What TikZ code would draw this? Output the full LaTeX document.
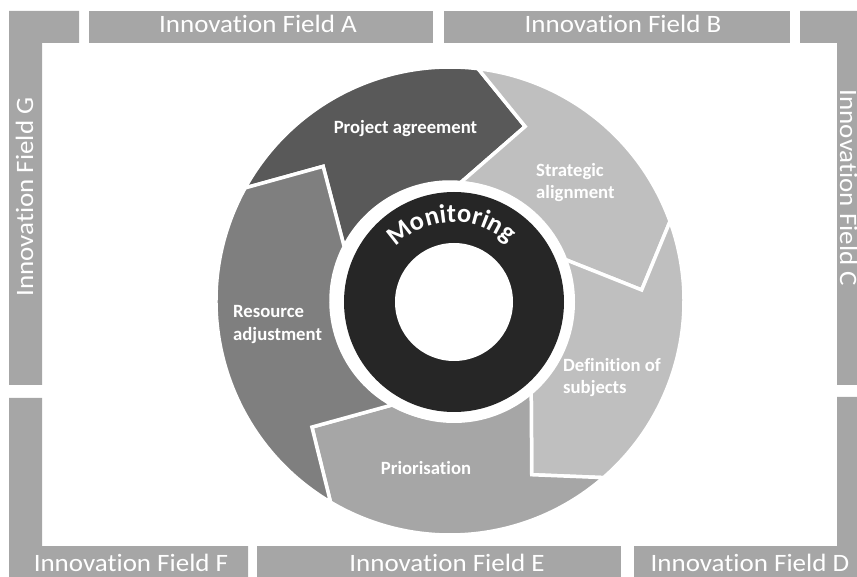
\documentclass[tikz,border=0pt]{standalone}
\usepackage{fontspec}
\setmainfont{Carlito}[Ligatures=NoCommon]
\newfontfamily\barfont[FakeStretch=1.08,Ligatures=NoCommon]{Carlito}
\usetikzlibrary{decorations.text}
\definecolor{barcol}{HTML}{A6A6A6}
\definecolor{colproj}{HTML}{595959}
\definecolor{colstrat}{HTML}{BFBFBF}
\definecolor{coldef}{HTML}{BFBFBF}
\definecolor{colprio}{HTML}{A6A6A6}
\definecolor{colres}{HTML}{7F7F7F}
\definecolor{ringcol}{HTML}{262626}
\begin{document}
\begin{tikzpicture}[x=1pt,y=1pt,
  bar/.style={fill=barcol,draw=none},
  fieldtext/.style={text=white,font=\barfont\fontsize{25}{30}\selectfont,inner sep=0pt,anchor=base},
  seg/.style={draw=white,line width=3.5pt,line join=miter},
  lbl/.style={text=white,font=\bfseries\fontsize{18.7}{22}\selectfont,inner sep=0pt}]
\useasboundingbox (0,0) rectangle (857,576);
\clip (0,0) rectangle (857,576);
% frame bars
\fill[bar] (9,565) -- (79,565) -- (79,533) -- (42,533) -- (42,191) -- (9,191) -- cycle;
\fill[bar] (89,533) rectangle (433,565);
\fill[bar] (444,533) rectangle (790,565);
\fill[bar] (800,565) -- (870,565) -- (870,191) -- (837,191) -- (837,533) -- (800,533) -- cycle;
\fill[bar] (837,179) -- (870,179) -- (870,-2) -- (634,-2) -- (634,30) -- (837,30) -- cycle;
\fill[bar] (257,-2) rectangle (621,30);
\fill[bar] (9,178) -- (42,178) -- (42,30) -- (248,30) -- (248,-2) -- (9,-2) -- cycle;
% field texts
\node[fieldtext] (fa) at (258,543) {Innovation Field A};
\node[fieldtext] (fb) at (623,543) {Innovation Field B};
\node[fieldtext,rotate=-90] (fc) at (840,388) {Innovation Field C};
\node[fieldtext] (fd) at (750,5) {Innovation Field D};
\node[fieldtext] (fe) at (447,5) {Innovation Field E};
\node[fieldtext] (ff) at (131,5) {Innovation Field F};
\node[fieldtext,rotate=90] (fg) at (33,379) {Innovation Field G};
% cycle segments
\begin{scope}[shift={(450,275)}]
% Project agreement
\filldraw[seg,fill=colproj] (151.1:234) arc[start angle=151.1,end angle=83.1,radius=234]
  -- (66.7:190) -- (84.8:119) arc[start angle=84.8,end angle=152.8,radius=119] -- (133.3:185) -- cycle;
% Strategic alignment
\filldraw[seg,fill=colstrat] (83.1:234) arc[start angle=83.1,end angle=19.9,radius=234]
  -- (3.3:192) -- (21.3:119) arc[start angle=21.3,end angle=84.8,radius=119] -- (66.7:190) -- cycle;
% Definition of subjects
\filldraw[seg,fill=coldef] (19.9:234) arc[start angle=19.9,end angle=-49,radius=234]
  -- (-64.8:192) -- (-47:119) arc[start angle=-47,end angle=21.3,radius=119] -- (3.3:192) -- cycle;
% Priorisation
\filldraw[seg,fill=colprio] (-49:234) arc[start angle=-49,end angle=-120.7,radius=234]
  -- (-137.6:187) -- (-119.1:119) arc[start angle=-119.1,end angle=-47,radius=119] -- (-64.8:192) -- cycle;
% Resource adjustment
\filldraw[seg,fill=colres] (239.3:234) arc[start angle=239.3,end angle=151.1,radius=234]
  -- (133.3:185) -- (152.8:119) arc[start angle=152.8,end angle=240.9,radius=119] -- (222.4:187) -- cycle;
\end{scope}
% monitoring ring
\begin{scope}[shift={(454,274)}]
\fill[white] (0,0) circle[radius=121];
\fill[ringcol] (0,0) circle[radius=110];
\fill[white] (0,0) circle[radius=59];
\path[decorate,decoration={text along path,text color=white,text align=center,
  text={|\bfseries\fontsize{26.5}{26.5}\selectfont|Monitoring}}]
  (172:80) arc[start angle=172,end angle=12,radius=80];
\end{scope}
% labels
\node[lbl,anchor=base] (lproj) at (405.5,442) {Project agreement};
\node[lbl,anchor=base west] (lstrat1) at (536,399) {Strategic};
\node[lbl,anchor=base west] (lstrat2) at (536,377) {alignment};
\node[lbl,anchor=base west] (ldef1) at (563,204) {Definition of};
\node[lbl,anchor=base west] (ldef2) at (563,182) {subjects};
\node[lbl,anchor=base] (lprio) at (426,101) {Priorisation};
\node[lbl,anchor=base west] (lres1) at (233,258) {Resource};
\node[lbl,anchor=base west] (lres2) at (233,235) {adjustment};
\end{tikzpicture}
\end{document}
